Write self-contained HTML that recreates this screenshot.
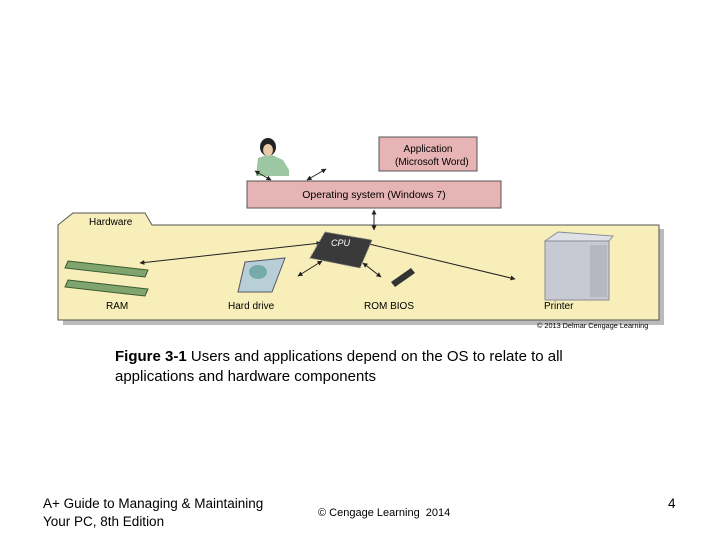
<!DOCTYPE html>
<html><head><style>
body{margin:0;width:720px;height:540px;background:#fff;position:relative;font-family:"Liberation Sans",sans-serif;overflow:hidden}
.t{position:absolute;white-space:nowrap}
</style></head><body>
<svg width="720" height="540" style="position:absolute;left:0;top:0">
<defs><marker id="a" viewBox="0 0 10 10" refX="9" refY="5" markerWidth="5" markerHeight="5" orient="auto-start-reverse"><path d="M0,0L10,5L0,10z" fill="#222"/></marker></defs>
<path d="M63,229 L78,218 L140,218 L146,229 L664,229 L664,325 L63,325 Z" fill="#bbb"/>
<path d="M58,225 L73,213 L145,213 L152,225 L659,225 L659,320 L58,320 Z" fill="#f7eeb9" stroke="#555" stroke-width="1"/>
<rect x="247" y="181" width="254" height="27" fill="#e6b4b4" stroke="#555"/>
<rect x="379" y="137" width="98" height="34" fill="#e6b4b4" stroke="#555"/>
<ellipse cx="268" cy="147" rx="8" ry="9" fill="#222"/>
<path d="M256,176 L258,158 L270,154 L283,160 L289,170 L289,176 Z" fill="#9cc7a2"/>
<ellipse cx="268" cy="150" rx="5" ry="6" fill="#e8c9a8"/>
<g stroke="#222" stroke-width="1" fill="none" marker-start="url(#a)" marker-end="url(#a)">
<line x1="255" y1="171" x2="271" y2="180"/>
<line x1="307" y1="180" x2="326" y2="169"/>
<line x1="374" y1="210" x2="374" y2="230"/>
<line x1="321" y1="243" x2="140" y2="263"/>
<line x1="322" y1="261" x2="298" y2="276"/>
<line x1="363" y1="263" x2="381" y2="277"/>
<line x1="365" y1="243" x2="515" y2="279"/>
</g>
<polygon points="325,232 372,240 360,268 310,258" fill="#3a3a3a" stroke="#888" stroke-dasharray="2,2"/>
<polygon points="68,261 148,270 145,277 65,268" fill="#7fa46e" stroke="#3a5a30"/>
<polygon points="68,280 148,289 145,296 65,287" fill="#7fa46e" stroke="#3a5a30"/>
<polygon points="245,262 285,258 272,292 238,292" fill="#b9cfd8" stroke="#556"/>
<ellipse cx="258" cy="272" rx="9" ry="7" fill="#7aa"/>
<polygon points="391,282 411,268 415,273 395,287" fill="#333"/>
<rect x="545" y="241" width="64" height="59" fill="#c7cad3" stroke="#8a8c95"/>
<polygon points="545,241 558,232 613,236 609,241" fill="#dfe1e7" stroke="#8a8c95"/>
<rect x="590" y="245" width="17" height="52" fill="#b5b8c1"/>
</svg>
<div class="t" style="left:395px;top:143px;width:66px;text-align:center;font-size:10px;line-height:13px">Application<br>(Microsoft Word)</div>
<div class="t" style="left:247px;top:189px;width:254px;text-align:center;font-size:10.5px">Operating system (Windows 7)</div>
<div class="t" style="left:89px;top:217px;font-size:10px">Hardware</div>
<div class="t" style="left:331px;top:238px;font-size:9px;color:#fff;font-style:italic">CPU</div>
<div class="t" style="left:106px;top:301px;font-size:10px">RAM</div>
<div class="t" style="left:228px;top:301px;font-size:10px">Hard drive</div>
<div class="t" style="left:364px;top:301px;font-size:10px">ROM BIOS</div>
<div class="t" style="left:544px;top:301px;font-size:10px">Printer</div>
<div class="t" style="left:537px;top:321px;font-size:7.3px">© 2013 Delmar Cengage Learning</div>
<div class="t" style="left:115px;top:347px;font-size:15px;line-height:20px"><b>Figure 3-1</b> Users and applications depend on the OS to relate to all<br>applications and hardware components</div>
<div class="t" style="left:43px;top:495px;font-size:13.5px;line-height:18px">A+ Guide to Managing &amp; Maintaining<br>Your PC, 8th Edition</div>
<div class="t" style="left:318px;top:507px;font-size:11px">© Cengage Learning&nbsp; 2014</div>
<div class="t" style="left:668px;top:496px;font-size:13.5px">4</div>
</body></html>
